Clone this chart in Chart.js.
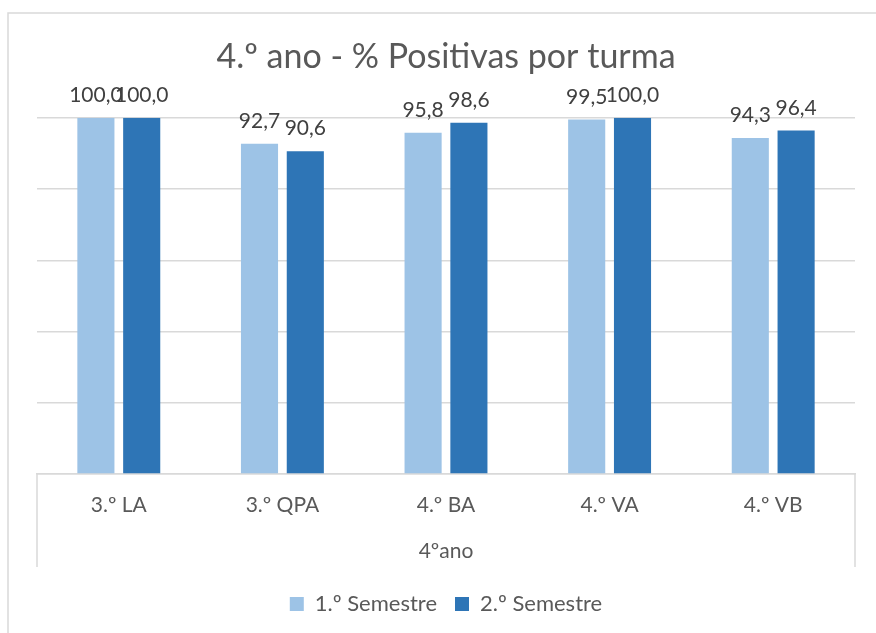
<!DOCTYPE html>
<html lang="pt">
<head>
    <meta charset="UTF-8">
    <title>4.º ano - % Positivas por turma</title>
    <script src="https://cdn.jsdelivr.net/npm/chart.js"></script>
    <style>
        html, body {
            margin: 0;
            padding: 0;
            background: #ffffff;
        }
        .wrap {
            width: 876px;
            height: 633px;
        }
    </style>
</head>
<body>
    <div class="wrap">
        <canvas id="grafico" width="876" height="633"></canvas>
    </div>

    <script>
        // dados
        const turmas = ['3.º LA', '3.º QPA', '4.º BA', '4.º VA', '4.º VB'];
        const grupo = ['4ºano'];
        const semestre1 = [100.0, 92.7, 95.8, 99.5, 94.3];
        const semestre2 = [100.0, 90.6, 98.6, 100.0, 96.4];
        const nomesSeries = ['1.º Semestre', '2.º Semestre'];

        const fonte = 'Lato, "Open Sans", sans-serif';
        const cinzaTexto = '#595959';
        const cinzaLinha = '#d9d9d9';

        // moldura do gráfico + linhas do eixo multinível
        const molduraPlugin = {
            id: 'moldura',
            beforeDraw(chart) {
                const ctx = chart.ctx;
                ctx.save();
                ctx.strokeStyle = cinzaLinha;
                ctx.lineWidth = 1.5;
                ctx.strokeRect(8, 13, 1000, 1000);
                ctx.restore();
            },
            afterDraw(chart) {
                const ctx = chart.ctx;
                const area = chart.chartArea;
                const fundo = area.bottom + 93;
                ctx.save();
                ctx.strokeStyle = cinzaLinha;
                ctx.lineWidth = 1.5;
                ctx.beginPath();
                ctx.moveTo(area.left, area.bottom);
                ctx.lineTo(area.left, fundo);
                ctx.moveTo(area.right, area.bottom);
                ctx.lineTo(area.right, fundo);
                ctx.stroke();
                ctx.restore();
            }
        };

        // rótulos de valor por cima das barras
        const rotulosPlugin = {
            id: 'rotulos',
            afterDatasetsDraw(chart) {
                const ctx = chart.ctx;
                ctx.save();
                ctx.font = '21px ' + fonte;
                ctx.fillStyle = '#404040';
                ctx.textAlign = 'center';
                ctx.textBaseline = 'alphabetic';
                chart.data.datasets.forEach((ds, i) => {
                    chart.getDatasetMeta(i).data.forEach((bar, j) => {
                        const txt = ds.data[j].toFixed(1).replace('.', ',');
                        ctx.fillText(txt, bar.x, bar.y - 16);
                    });
                });
                ctx.restore();
            }
        };

        new Chart(document.getElementById('grafico'), {
            type: 'bar',
            data: {
                labels: turmas,
                datasets: [{
                    label: nomesSeries[0],
                    data: semestre1,
                    backgroundColor: '#9dc3e6'
                }, {
                    label: nomesSeries[1],
                    data: semestre2,
                    backgroundColor: '#2e75b6'
                }]
            },
            options: {
                responsive: false,
                animation: false,
                categoryPercentage: 0.56,
                barPercentage: 0.81,
                layout: {
                    padding: { left: 37, right: 21, top: 0, bottom: 8 }
                },
                plugins: {
                    title: {
                        display: true,
                        text: '4.º ano - % Positivas por turma',
                        color: cinzaTexto,
                        font: { family: fonte, size: 34, weight: 'normal' },
                        padding: { top: 37, bottom: 40 }
                    },
                    legend: {
                        position: 'bottom',
                        labels: {
                            color: cinzaTexto,
                            font: { family: fonte, size: 22 },
                            boxWidth: 14,
                            boxHeight: 14,
                            padding: 18
                        }
                    },
                    tooltip: { enabled: false }
                },
                scales: {
                    y: {
                        min: 0,
                        max: 100,
                        ticks: { display: false, stepSize: 20 },
                        grid: { color: cinzaLinha, lineWidth: 1.5, drawTicks: false },
                        border: { display: false },
                        afterFit(s) { s.width = 0; }
                    },
                    x: {
                        grid: { display: false, drawTicks: false },
                        border: { display: true, color: cinzaLinha, width: 1.5 },
                        ticks: {
                            color: cinzaTexto,
                            font: { family: fonte, size: 21 },
                            padding: 19
                        },
                        afterFit(s) { s.height = 45; }
                    },
                    x2: {
                        type: 'category',
                        position: 'bottom',
                        labels: grupo,
                        offset: true,
                        grid: { display: false, drawTicks: false },
                        border: { display: false },
                        ticks: {
                            color: cinzaTexto,
                            font: { family: fonte, size: 21 },
                            padding: 20
                        },
                        afterFit(s) { s.height = 56; }
                    }
                }
            },
            plugins: [molduraPlugin, rotulosPlugin]
        });
    </script>
</body>
</html>
